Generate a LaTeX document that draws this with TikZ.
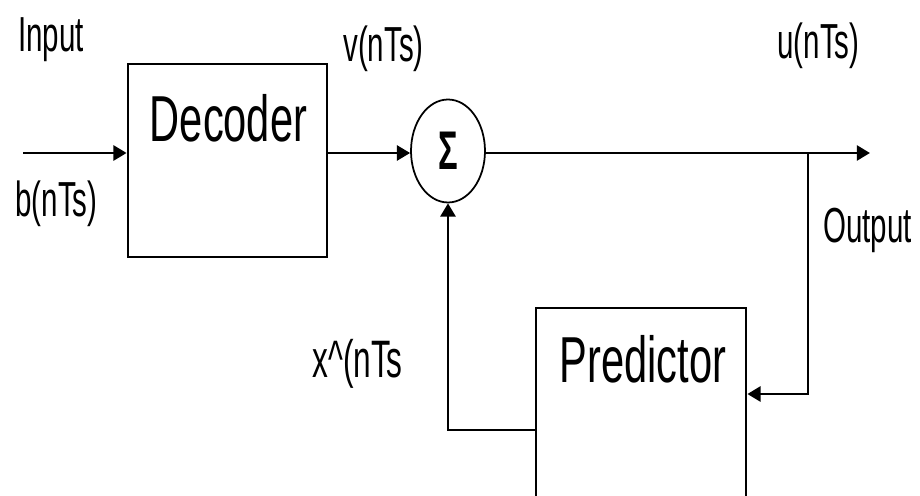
\documentclass[tikz,border=0pt]{standalone}
\usepackage{fontspec}
\usepackage{tikz}
\usetikzlibrary{arrows.meta,shapes,positioning}
\newfontfamily\lbl[FakeStretch=0.6]{Liberation Sans}
\newfontfamily\lblbig[FakeStretch=0.64]{Liberation Sans}

\begin{document}
\begin{tikzpicture}[x=0.02cm,y=-0.02cm,>={Triangle[length=7.5pt,width=8.5pt]},
blok/.style={draw,line width=1.6pt},
sig/.style={font=\lbl\fontsize{28}{32}\selectfont,anchor=base west,inner sep=0pt},
big/.style={font=\lblbig\fontsize{37}{44}\selectfont,anchor=base,inner sep=0pt},
wire/.style={line width=1.6pt}]
\useasboundingbox (0,0) rectangle (920,496);
\clip (0,0) rectangle (920,496);
\node[blok,minimum width=3.98cm,minimum height=3.86cm] (dec) at (227.5,160.5) {};
\node[big] (dectxt) at (228.5,142) {Decoder};
\node[blok,minimum width=4.2cm,minimum height=4.88cm] (pred) at (641,430) {};
\node[big] (predtxt) at (643,383) {Predictor};
\node[draw,ellipse,line width=1pt,minimum width=1.48cm,minimum height=2.06cm,inner sep=0pt,
font=\lbl\bfseries\fontsize{31}{36}\selectfont] (sum) at (448,151) {Σ};
\coordinate (in) at (23,153);
\coordinate (out) at (870,153);
\coordinate (jn) at (808,153);
\draw[wire,->] (in) -- (in -| dec.west);
\draw[wire,->] (dec.east |- in) -- (in -| sum.west);
\draw[wire,->] (in -| sum.east) -- (out);
\draw[wire,->] (jn) |- ([yshift=0.72cm]pred.east);
\draw[wire,->] (pred.west) -| (sum.south);
\node[sig] (input) at (18,52) {Input};
\node[sig] (bn) at (15,217) {b(nTs)};
\node[sig] (vn) at (343,62) {v(nTs)};
\node[sig] (un) at (777,59) {u(nTs)};
\node[sig] (output) at (823,243) {Output};
\node[sig,font=\lbl\fontsize{30}{34}\selectfont] (xhat) at (312,378) {x\textasciicircum(nTs};
\end{tikzpicture}
\end{document}
